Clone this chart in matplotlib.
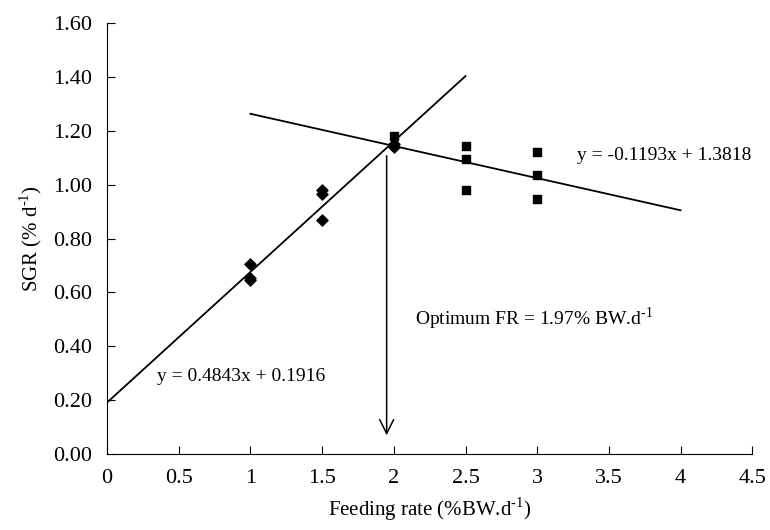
import numpy as np
import matplotlib.pyplot as plt

plt.rcParams['font.family'] = 'Liberation Serif'
plt.rcParams['mathtext.fontset'] = 'custom'
plt.rcParams['mathtext.rm'] = 'Liberation Serif'

# data
fr_low = [1, 1, 1, 1.5, 1.5, 1.5, 2, 2]
sgr_low = [0.705, 0.653, 0.646, 0.98, 0.965, 0.87, 1.15, 1.14]
fr_high = [2, 2.5, 2.5, 2.5, 3, 3, 3]
sgr_high = [1.18, 1.143, 1.095, 0.98, 1.12, 1.035, 0.946]

slope1, icpt1 = 0.4843, 0.1916
slope2, icpt2 = -0.1193, 1.3818
line1_x = [0, 2.5]
line2_x = [1, 4]
optimum_fr = 1.95

xticks = [0, 0.5, 1, 1.5, 2, 2.5, 3, 3.5, 4, 4.5]
xticklabels = ['0', '0.5', '1', '1.5', '2', '2.5', '3', '3.5', '4', '4.5']
yticks = [0, 0.2, 0.4, 0.6, 0.8, 1.0, 1.2, 1.4, 1.6]

sup = r'$^{\mathregular{\text{-}1}}$'

fig = plt.figure(figsize=(7.7, 5.3), dpi=100)
ax = fig.add_axes([0.139, 0.143, 0.838, 0.814])

lx1 = np.array(line1_x)
lx2 = np.array(line2_x)
ax.plot(lx1, slope1 * lx1 + icpt1, color='black', lw=1.3)
ax.plot(lx2, slope2 * lx2 + icpt2, color='black', lw=1.3)

ax.scatter(fr_low, sgr_low, marker='D', s=32, color='black', zorder=3)
ax.scatter(fr_high, sgr_high, marker='s', s=30, color='black', zorder=3)

ax.annotate('', xy=(optimum_fr, 0.06), xytext=(optimum_fr, 1.117),
            arrowprops=dict(arrowstyle='->', color='black', lw=1.1,
                            mutation_scale=25))

ax.text(0.35, 0.27, 'y = 0.4843x + 0.1916', fontsize=14)
ax.text(3.28, 1.09, 'y = -0.1193x + 1.3818', fontsize=14)
ax.text(2.15, 0.48, 'Optimum FR = 1.97% BW.d' + sup, fontsize=14)

ax.set_xlim(0, 4.5)
ax.set_ylim(0, 1.6)
ax.set_xticks(xticks)
ax.set_xticklabels(xticklabels)
ax.set_yticks(yticks)
ax.set_yticklabels(['%.2f' % v for v in yticks])
ax.tick_params(direction='in', labelsize=16, length=6, pad=11)
ax.spines['top'].set_visible(False)
ax.spines['right'].set_visible(False)

ax.set_xlabel('Feeding rate (%BW.d' + sup + ')', fontsize=15, labelpad=5)
ax.set_ylabel('SGR (% d' + sup + ')', fontsize=15, labelpad=6)

plt.savefig('out.png', dpi=100)
